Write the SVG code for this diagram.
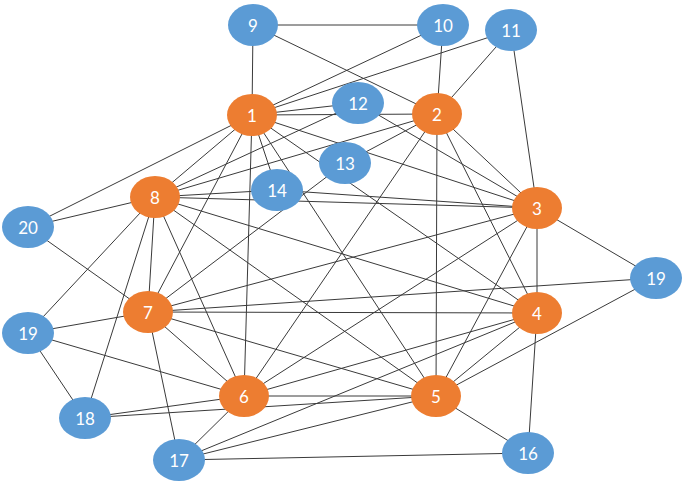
<svg xmlns="http://www.w3.org/2000/svg" width="685" height="485" viewBox="0 0 685 485">
<style>
.e line{stroke:#3a3a3a;stroke-width:1}
.o{fill:#ED7D31}
.b{fill:#5B9BD5}
text{font-family:"Lato","Liberation Sans",sans-serif;font-size:17px;fill:#fff;text-anchor:middle;dominant-baseline:central}
</style>
<rect width="685" height="485" fill="#fff"/>
<g id="connectors" class="e">
<line x1="253" y1="25" x2="443" y2="25"/>
<line x1="253" y1="25" x2="252" y2="115"/>
<line x1="253" y1="25" x2="437" y2="114"/>
<line x1="443" y1="25" x2="252" y2="115"/>
<line x1="443" y1="25" x2="437" y2="114"/>
<line x1="511" y1="30" x2="252" y2="115"/>
<line x1="511" y1="30" x2="437" y2="114"/>
<line x1="511" y1="30" x2="537" y2="208"/>
<line x1="358" y1="103" x2="252" y2="115"/>
<line x1="358" y1="103" x2="155" y2="197"/>
<line x1="358" y1="103" x2="537" y2="208"/>
<line x1="345" y1="163" x2="437" y2="114"/>
<line x1="345" y1="163" x2="148" y2="312"/>
<line x1="277" y1="190" x2="252" y2="115"/>
<line x1="277" y1="190" x2="537" y2="208"/>
<line x1="277" y1="190" x2="155" y2="197"/>
<line x1="28" y1="227" x2="252" y2="115"/>
<line x1="28" y1="227" x2="155" y2="197"/>
<line x1="28" y1="227" x2="148" y2="312"/>
<line x1="28" y1="333" x2="155" y2="197"/>
<line x1="28" y1="333" x2="148" y2="312"/>
<line x1="28" y1="333" x2="244" y2="396"/>
<line x1="28" y1="333" x2="85" y2="418"/>
<line x1="85" y1="418" x2="155" y2="197"/>
<line x1="85" y1="418" x2="244" y2="396"/>
<line x1="85" y1="418" x2="436" y2="396"/>
<line x1="179" y1="460" x2="148" y2="312"/>
<line x1="179" y1="460" x2="244" y2="396"/>
<line x1="179" y1="460" x2="436" y2="396"/>
<line x1="179" y1="460" x2="537" y2="313"/>
<line x1="179" y1="460" x2="528" y2="453"/>
<line x1="528" y1="453" x2="436" y2="396"/>
<line x1="528" y1="453" x2="537" y2="313"/>
<line x1="656" y1="278" x2="537" y2="208"/>
<line x1="656" y1="278" x2="148" y2="312"/>
<line x1="656" y1="278" x2="436" y2="396"/>
<line x1="252" y1="115" x2="437" y2="114"/>
<line x1="252" y1="115" x2="537" y2="208"/>
<line x1="252" y1="115" x2="537" y2="313"/>
<line x1="252" y1="115" x2="436" y2="396"/>
<line x1="252" y1="115" x2="244" y2="396"/>
<line x1="252" y1="115" x2="148" y2="312"/>
<line x1="252" y1="115" x2="155" y2="197"/>
<line x1="437" y1="114" x2="537" y2="208"/>
<line x1="437" y1="114" x2="537" y2="313"/>
<line x1="437" y1="114" x2="436" y2="396"/>
<line x1="437" y1="114" x2="244" y2="396"/>
<line x1="437" y1="114" x2="155" y2="197"/>
<line x1="537" y1="208" x2="537" y2="313"/>
<line x1="537" y1="208" x2="436" y2="396"/>
<line x1="537" y1="208" x2="244" y2="396"/>
<line x1="537" y1="208" x2="148" y2="312"/>
<line x1="537" y1="208" x2="155" y2="197"/>
<line x1="537" y1="313" x2="436" y2="396"/>
<line x1="537" y1="313" x2="244" y2="396"/>
<line x1="537" y1="313" x2="148" y2="312"/>
<line x1="537" y1="313" x2="155" y2="197"/>
<line x1="436" y1="396" x2="244" y2="396"/>
<line x1="436" y1="396" x2="148" y2="312"/>
<line x1="436" y1="396" x2="155" y2="197"/>
<line x1="244" y1="396" x2="148" y2="312"/>
<line x1="244" y1="396" x2="155" y2="197"/>
<line x1="148" y1="312" x2="155" y2="197"/>
</g>
<g id="n1"><ellipse class="o" cx="252" cy="115" rx="25" ry="21"/><text x="252" y="115">1</text></g>
<g id="n2"><ellipse class="o" cx="437" cy="114" rx="25" ry="21"/><text x="437" y="114">2</text></g>
<g id="n3"><ellipse class="o" cx="537" cy="208" rx="25" ry="21"/><text x="537" y="208">3</text></g>
<g id="n4"><ellipse class="o" cx="537" cy="313" rx="25" ry="21"/><text x="537" y="313">4</text></g>
<g id="n5"><ellipse class="o" cx="436" cy="396" rx="25" ry="21"/><text x="436" y="396">5</text></g>
<g id="n6"><ellipse class="o" cx="244" cy="396" rx="25" ry="21"/><text x="244" y="396">6</text></g>
<g id="n7"><ellipse class="o" cx="148" cy="312" rx="25" ry="21"/><text x="148" y="312">7</text></g>
<g id="n8"><ellipse class="o" cx="155" cy="197" rx="25" ry="21"/><text x="155" y="197">8</text></g>
<g id="n9"><ellipse class="b" cx="253" cy="25" rx="25" ry="21"/><text x="253" y="25">9</text></g>
<g id="n10"><ellipse class="b" cx="443" cy="25" rx="26" ry="21"/><text x="443" y="25">10</text></g>
<g id="n11"><ellipse class="b" cx="511" cy="30" rx="26" ry="21"/><text x="511" y="30">11</text></g>
<g id="n12"><ellipse class="b" cx="358" cy="103" rx="26" ry="21"/><text x="358" y="103">12</text></g>
<g id="n13"><ellipse class="b" cx="345" cy="163" rx="26" ry="21"/><text x="345" y="163">13</text></g>
<g id="n14"><ellipse class="b" cx="277" cy="190" rx="26" ry="21"/><text x="277" y="190">14</text></g>
<g id="n16"><ellipse class="b" cx="528" cy="453" rx="26" ry="21"/><text x="528" y="453">16</text></g>
<g id="n17"><ellipse class="b" cx="179" cy="460" rx="26" ry="21"/><text x="179" y="460">17</text></g>
<g id="n18"><ellipse class="b" cx="85" cy="418" rx="26" ry="21"/><text x="85" y="418">18</text></g>
<g id="n19a"><ellipse class="b" cx="28" cy="333" rx="26" ry="21"/><text x="28" y="333">19</text></g>
<g id="n19b"><ellipse class="b" cx="656" cy="278" rx="26" ry="21"/><text x="656" y="278">19</text></g>
<g id="n20"><ellipse class="b" cx="28" cy="227" rx="26" ry="21"/><text x="28" y="227">20</text></g>
</svg>
